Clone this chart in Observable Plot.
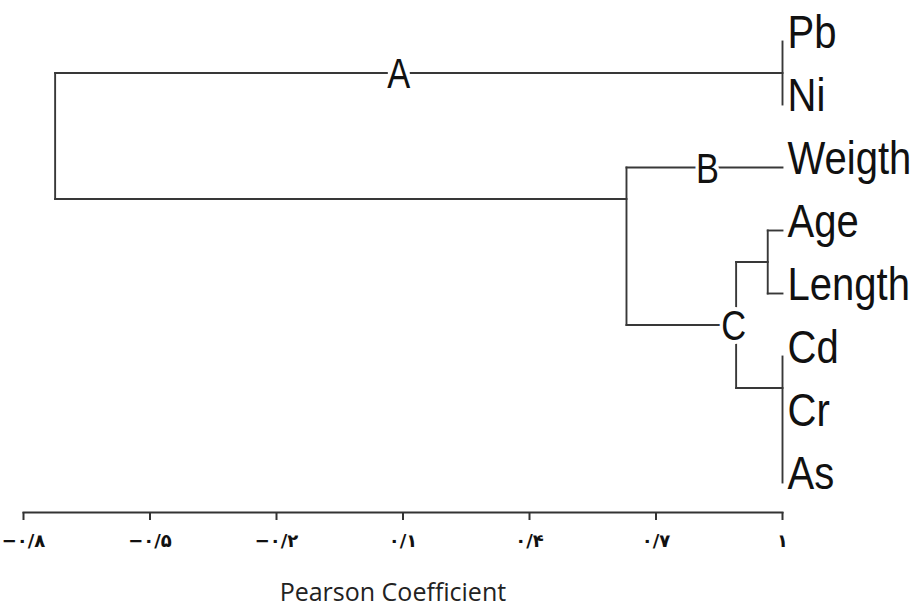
<!DOCTYPE html>
<html><head><meta charset="utf-8">
<script src="https://cdn.jsdelivr.net/npm/d3@7"></script>
<script src="https://cdn.jsdelivr.net/npm/@observablehq/plot@0.6"></script>
<style>body{margin:0;background:#fff}</style>
</head><body><div id="chart"></div>
<script>
// Leaves of the dendrogram, top to bottom
const leaves = ["Pb","Ni","Weigth","Age","Length","Cd","Cr","As"];
const leafValue = 1;
// Merges (clusters): name, Pearson coefficient at which they join, children, row of the junction
const mergeNames = ["PbNi","AgeLength","CdCrAs","C","BC","Root"];
const mergeValues = [1.0, 0.965, 1.0, 0.89, 0.63, -0.725];
const mergeChildren = [["Pb","Ni"],["Age","Length"],["Cd","Cr","As"],["AgeLength","CdCrAs"],["Weigth","C"],["PbNi","BC"]];
const mergeRows = [0.5, 3.5, 5.5, 4.5, 2.5, 1.5];
// Cluster letters
const clusterLabels = ["A","B","C"];
const clusterValues = [0.09, 0.822, 0.884];
const clusterRows = [0.5, 2, 4.5];
// Axis
const tickValues = [-0.8,-0.5,-0.2,0.1,0.4,0.7,1];
const tickLabels = ["−۰/۸","−۰/۵","−۰/۲","۰/۱","۰/۴","۰/۷","۱"];
const axisTitle = "Pearson Coefficient";
const axisTitleValue = 0.076;

const pos = new Map();
leaves.forEach((l,i)=>pos.set(l,{x:leafValue,y:i}));
mergeNames.forEach((n,i)=>pos.set(n,{x:mergeValues[i],y:mergeRows[i]}));
const segments = [];
mergeNames.forEach((n,i)=>{
  const ys = mergeChildren[i].map(c=>pos.get(c).y);
  segments.push({x1:mergeValues[i],x2:mergeValues[i],y1:d3.min(ys),y2:d3.max(ys)});
  mergeChildren[i].forEach(c=>{
    const p=pos.get(c);
    if (p.x !== mergeValues[i]) segments.push({x1:mergeValues[i],x2:p.x,y1:p.y,y2:p.y});
  });
});

const plot = Plot.plot({
  width:914, height:612,
  marginLeft:23, marginRight:132, marginTop:20, marginBottom:100,
  x:{domain:[-0.8,1]},
  y:{domain:[0,7], range:[41,482], axis:null},
  marks:[
    Plot.link(segments,{x1:"x1",y1:"y1",x2:"x2",y2:"y2",stroke:"#383838",strokeWidth:1.9,strokeLinecap:"square"}),
    Plot.frame({anchor:"bottom",stroke:"#333",strokeWidth:2}),
    Plot.axisX({ticks:tickValues, tickFormat:d=>tickLabels[tickValues.indexOf(d)], tickSize:8, tickPadding:14, fontSize:18, fontWeight:"bold", fontFamily:"DejaVu Sans", stroke:"#333", strokeWidth:2, fill:"#111", label:null}),
    Plot.dot(clusterLabels, {x:(d,i)=>clusterValues[i], y:(d,i)=>clusterRows[i], r:11, fill:"white", stroke:null}),
    Plot.text(clusterLabels, {x:(d,i)=>clusterValues[i], y:(d,i)=>clusterRows[i], text:d=>d, fontSize:42, fontFamily:"Liberation Sans", fill:"#111", stroke:"white", strokeWidth:8, paintOrder:"stroke", dy:2}),
    Plot.text(leaves, {x:()=>leafValue, y:(d,i)=>i, text:d=>d, textAnchor:"start", dx:5, dy:-8, fontSize:46, fontFamily:"Liberation Sans", fill:"#111"}),
    Plot.text([axisTitle], {x:()=>axisTitleValue, frameAnchor:"bottom", dy:88, fontSize:25, fontFamily:"Open Sans", fill:"#222"})
  ]
});
function squeeze(el, s){
  const tr = el.getAttribute("transform")||"";
  el.setAttribute("transform", `${tr} scale(${s},1)`);
}
plot.querySelectorAll("text").forEach(t=>{
  const s = t.textContent;
  if (leaves.includes(s)) squeeze(t, 0.87);
  else if (clusterLabels.includes(s)) squeeze(t, 0.82);
});
document.getElementById("chart").appendChild(plot);
</script>
</body></html>
